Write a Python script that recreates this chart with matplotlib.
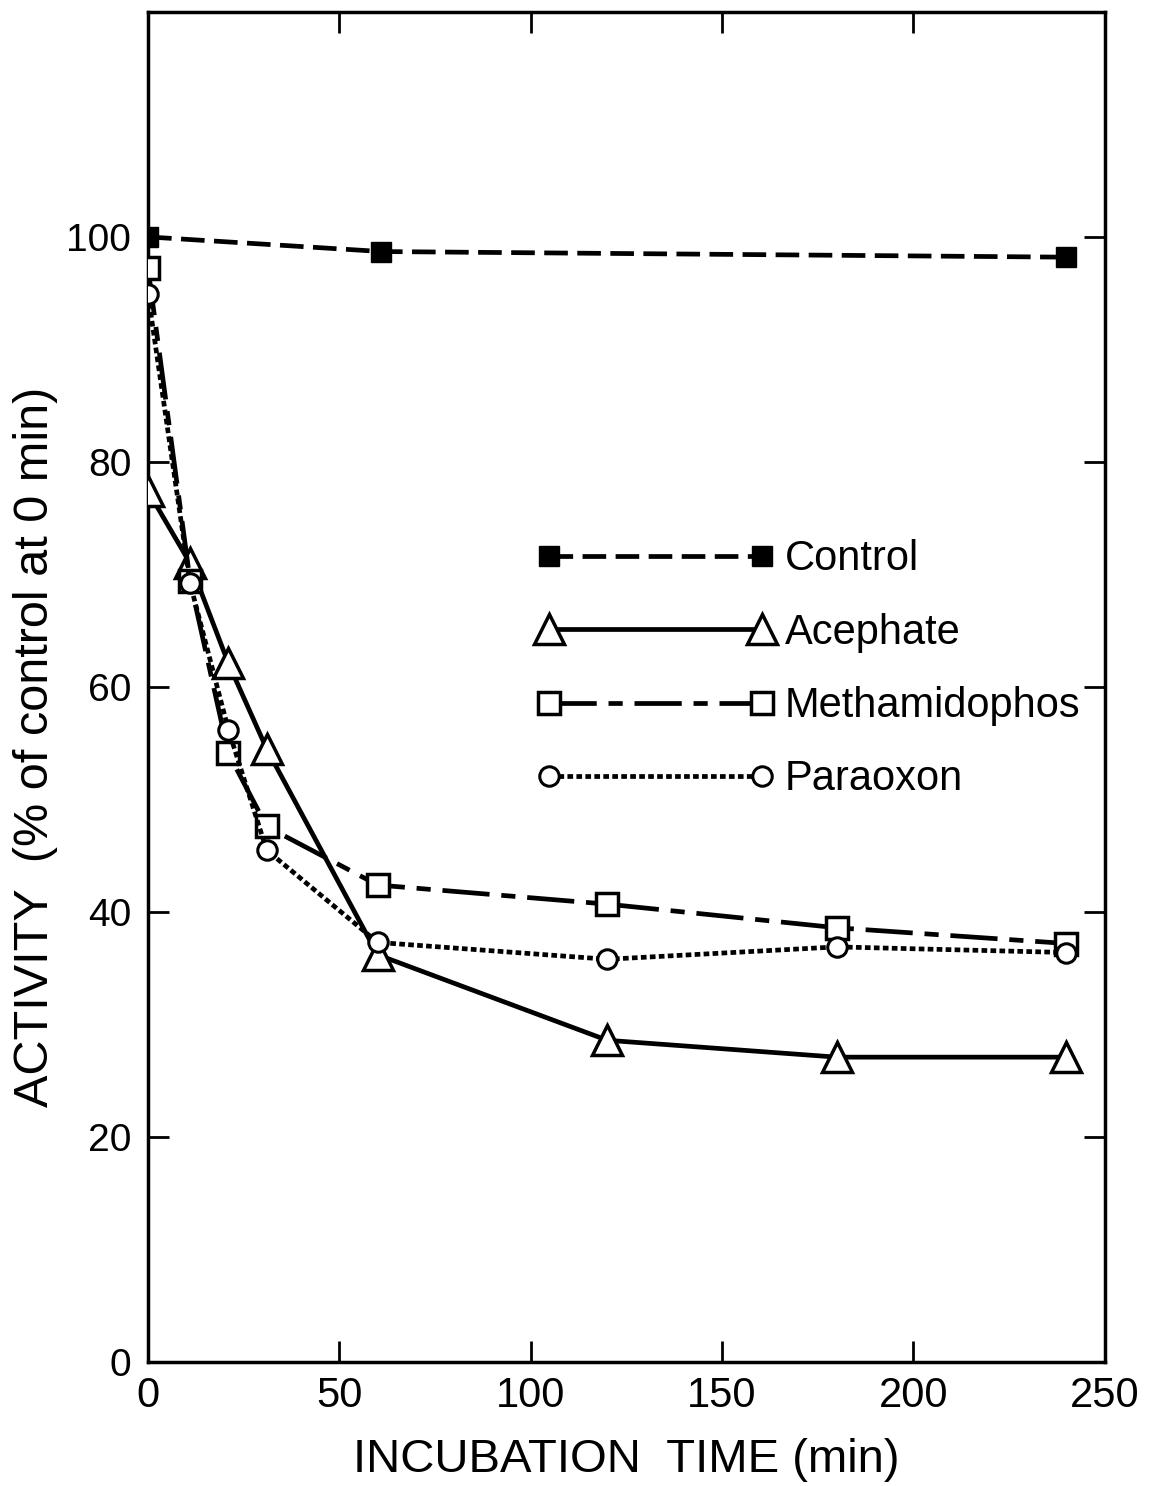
import matplotlib
matplotlib.use("Agg")
import matplotlib.pyplot as plt

time_short = [0, 11, 21, 31, 60, 120, 180, 240]
control_t = [0, 61, 240]
control = [100, 98.7, 98.2]
acephate = [77.4, 71.0, 62.1, 54.5, 36.2, 28.6, 27.1, 27.1]
methamidophos = [97.2, 69.4, 54.1, 47.6, 42.4, 40.7, 38.6, 37.2]
paraoxon = [94.9, 69.2, 56.2, 45.5, 37.3, 35.8, 36.9, 36.4]

xticks = [0, 50, 100, 150, 200, 250]
yticks = [0, 20, 40, 60, 80, 100]

plt.rcParams['font.family'] = ['Liberation Sans', 'DejaVu Sans']

fig = plt.figure(figsize=(11.52, 14.86), dpi=100)
ax = fig.add_axes([0.1285, 0.0834, 0.8305, 0.9086])

lw = 3.4
ax.plot(control_t, control, color='black', lw=lw, dashes=(5, 2),
        marker='s', ms=15, mfc='black', mec='black', label='Control', zorder=3)
ax.plot(time_short, acephate, color='black', lw=lw, linestyle='-',
        marker='^', ms=21, mfc='white', mec='black', mew=2.5, label='Acephate', zorder=3)
ax.plot(time_short, methamidophos, color='black', lw=lw, dashes=(10, 2.5, 3, 2.5),
        marker='s', ms=16, mfc='white', mec='black', mew=2.5, label='Methamidophos', zorder=3)
ax.plot(time_short, paraoxon, color='black', lw=lw, dashes=(1.2, 0.7),
        marker='o', ms=14, mfc='white', mec='black', mew=2.2, label='Paraoxon', zorder=3)

ax.set_xlim(0, 250)
ax.set_ylim(0, 120)
ax.set_xticks(xticks)
ax.set_yticks(yticks)
ax.tick_params(direction='in', length=15, width=2, top=True, right=True)
ax.tick_params(axis='x', labelsize=30, pad=10)
ax.tick_params(axis='y', labelsize=28, pad=12)
for s in ax.spines.values():
    s.set_linewidth(2.5)

ax.set_xlabel('INCUBATION  TIME (min)', fontsize=34, labelpad=16)
ax.set_ylabel('ACTIVITY  (% of control at 0 min)', fontsize=35)
ax.yaxis.set_label_coords(-0.094, 0.456)

leg = ax.legend(loc='center left', bbox_to_anchor=(0.389, 0.513), numpoints=2,
                handlelength=5.7, handletextpad=0.25, labelspacing=0.8,
                frameon=False, fontsize=30, borderaxespad=0)

fig.savefig('out.png', dpi=100)
